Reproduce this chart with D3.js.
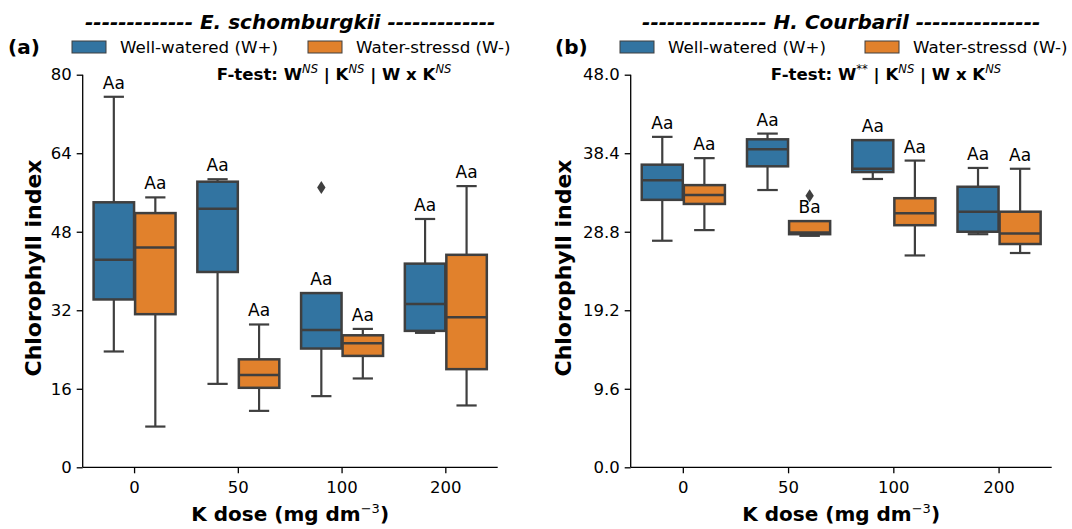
<!DOCTYPE html>
<html>
<head>
<meta charset="utf-8">
<script src="https://cdn.jsdelivr.net/npm/d3@7"></script>
<style>
  html, body { margin: 0; padding: 0; background: #fff; }
  svg { display: block; font-family: "DejaVu Sans", sans-serif; }
</style>
</head>
<body>
<svg id="chart" width="1072" height="529"></svg>
<script>
// K doses (categories) and water regimes (hue groups)
const doses = ["0", "50", "100", "200"];
const regimes = ["Well-watered (W+)", "Water-stressd (W-)"];
const regimeColors = ["#3274a1", "#e1812c"];

// Box statistics per dose: [lower whisker, Q1, median, Q3, upper whisker]
// E. schomburgkii
const eschWellWatered = [
  [23.6, 34.2, 42.3, 54.0, 75.5],
  [17.0, 39.8, 52.7, 58.2, 58.7],
  [14.5, 24.2, 28.0, 35.5, 35.5],
  [27.4, 27.8, 33.3, 41.5, 50.6]
];
const eschStressed = [
  [8.3, 31.2, 44.8, 51.8, 55.0],
  [11.5, 16.2, 18.8, 22.0, 29.1],
  [18.1, 22.7, 25.3, 26.9, 28.2],
  [12.6, 20.0, 30.6, 43.3, 57.3]
];
const eschOutliersWW = [[], [], [57.0], []];
const eschOutliersWS = [[], [], [], []];
const eschLettersWW = ["Aa", "Aa", "Aa", "Aa"];
const eschLettersWS = ["Aa", "Aa", "Aa", "Aa"];
const eschTicks = [0, 16, 32, 48, 64, 80];

// H. courbaril
const hcouWellWatered = [
  [27.7, 32.7, 35.1, 37.0, 40.4],
  [33.9, 36.8, 38.9, 40.1, 40.8],
  [35.25, 36.1, 36.5, 40.0, 40.0],
  [28.5, 28.8, 31.25, 34.3, 36.6]
];
const hcouStressed = [
  [29.0, 32.2, 33.3, 34.5, 37.8],
  [28.3, 28.5, 28.7, 30.1, 30.1],
  [25.9, 29.6, 31.05, 32.9, 37.5],
  [26.2, 27.3, 28.6, 31.25, 36.5]
];
const hcouOutliersWW = [[], [], [], []];
const hcouOutliersWS = [[], [33.2], [], []];
const hcouLettersWW = ["Aa", "Aa", "Aa", "Aa"];
const hcouLettersWS = ["Aa", "Ba", "Aa", "Aa"];
const hcouTicks = [0, 9.6, 19.2, 28.8, 38.4, 48.0];

const lineGray = "#3f3f3f";
const svg = d3.select("#chart");

function drawPanel(opt) {
  const g = svg.append("g");
  const x = d3.scaleBand().domain(doses).range([opt.x0, opt.x1]).padding(0);
  const y = d3.scaleLinear().domain([0, opt.ymax]).range([467.3, 74.7]);
  const bw = x.bandwidth();
  const boxW = bw * 0.39;
  const series = [
    { stats: opt.ww, out: opt.outWW, letters: opt.lettersWW, color: regimeColors[0], off: -0.2 },
    { stats: opt.ws, out: opt.outWS, letters: opt.lettersWS, color: regimeColors[1], off: 0.2 }
  ];

  series.forEach(s => {
    doses.forEach((d, i) => {
      const [lo, q1, med, q3, hi] = s.stats[i];
      const cx = x(d) + bw / 2 + s.off * bw;
      const bg = g.append("g");
      // whiskers
      bg.append("line").attr("x1", cx).attr("x2", cx).attr("y1", y(q3)).attr("y2", y(hi))
        .attr("stroke", lineGray).attr("stroke-width", 2.2);
      bg.append("line").attr("x1", cx).attr("x2", cx).attr("y1", y(q1)).attr("y2", y(lo))
        .attr("stroke", lineGray).attr("stroke-width", 2.2);
      // caps
      [lo, hi].forEach(v => {
        bg.append("line").attr("x1", cx - boxW / 4).attr("x2", cx + boxW / 4)
          .attr("y1", y(v)).attr("y2", y(v))
          .attr("stroke", lineGray).attr("stroke-width", 2.2);
      });
      // box
      bg.append("rect").attr("x", cx - boxW / 2).attr("y", y(q3))
        .attr("width", boxW).attr("height", Math.max(0.5, y(q1) - y(q3)))
        .attr("fill", s.color).attr("stroke", lineGray).attr("stroke-width", 2.5);
      // median
      bg.append("line").attr("x1", cx - boxW / 2).attr("x2", cx + boxW / 2)
        .attr("y1", y(med)).attr("y2", y(med))
        .attr("stroke", lineGray).attr("stroke-width", 2.5);
      // outliers (thin diamonds)
      s.out[i].forEach(v => {
        const py = y(v);
        bg.append("path")
          .attr("d", `M${cx},${py - 6.5} L${cx + 4.2},${py} L${cx},${py + 6.5} L${cx - 4.2},${py} Z`)
          .attr("fill", lineGray);
      });
      // significance letters
      g.append("text").attr("x", cx).attr("y", y(hi) - 8)
        .attr("text-anchor", "middle").attr("font-size", 17).attr("fill", "#000")
        .text(s.letters[i]);
    });
  });

  // axes
  const yAxis = d3.axisLeft(y).tickValues(opt.ticks).tickFormat(opt.fmt).tickSize(6).tickPadding(5);
  const xAxis = d3.axisBottom(x).tickSize(6).tickPadding(8);
  const ya = g.append("g").attr("transform", `translate(${opt.x0},0)`).call(yAxis);
  const xa = g.append("g").attr("transform", `translate(0,467.3)`).call(xAxis);
  [ya, xa].forEach(a => {
    a.selectAll("path.domain").attr("stroke", "#000").attr("stroke-width", 1.3);
    a.selectAll(".tick line").attr("stroke", "#000").attr("stroke-width", 1.3);
    a.selectAll(".tick text").attr("font-size", 16.5).attr("fill", "#000")
      .attr("font-family", "DejaVu Sans");
  });
  ya.select("path.domain").attr("d", `M0,74.7V467.3`);
  xa.select("path.domain").attr("d", `M${opt.x0},0H${opt.x1}`);

  // axis labels
  const cxAxis = (opt.x0 + opt.x1) / 2;
  const xl = g.append("text").attr("x", cxAxis).attr("y", 521)
    .attr("text-anchor", "middle").attr("font-size", 20).attr("font-weight", "bold");
  xl.append("tspan").text("K dose (mg dm");
  xl.append("tspan").attr("font-size", 13).attr("font-weight", "normal").attr("dy", -8).text("\u22123");
  xl.append("tspan").attr("dy", 8).text(")");

  g.append("text")
    .attr("transform", `translate(${opt.ylabX},268) rotate(-90)`)
    .attr("text-anchor", "middle").attr("dominant-baseline", "central")
    .attr("font-size", 22).attr("font-weight", "bold").text("Chlorophyll index");

  // species title
  const dashes = "-".repeat(opt.dashCount);
  g.append("text").attr("x", cxAxis).attr("y", 29).attr("text-anchor", "middle")
    .attr("font-size", 20).attr("font-weight", "bold").attr("font-style", "italic")
    .text(`${dashes} ${opt.title} ${dashes}`);

  // panel tag
  g.append("text").attr("x", opt.tagX).attr("y", 54)
    .attr("font-size", 20).attr("font-weight", "bold").text(opt.tag);

  // legend
  const lg = g.append("g");
  regimes.forEach((r, i) => {
    const lx = opt.legendX[i];
    lg.append("rect").attr("x", lx).attr("y", 41).attr("width", 34).attr("height", 12)
      .attr("fill", regimeColors[i]).attr("stroke", lineGray).attr("stroke-width", 1);
    lg.append("text").attr("x", lx + 48).attr("y", 53).attr("font-size", 16.7).text(r);
  });

  // F-test line
  const ft = g.append("text").attr("x", opt.ftX).attr("y", 80)
    .attr("text-anchor", "middle").attr("font-size", 16.6).attr("font-weight", "bold");
  opt.ftest.forEach(part => {
    const t = ft.append("tspan").text(part.t);
    if (part.sup) {
      t.attr("font-size", 11.5).attr("font-weight", "normal").attr("font-style", "italic").attr("dy", -7);
    } else if (part.after) {
      t.attr("dy", 7);
    }
  });
}

drawPanel({
  x0: 82.7, x1: 497.7, ymax: 80, ticks: eschTicks, fmt: d3.format("d"),
  ww: eschWellWatered, ws: eschStressed, outWW: eschOutliersWW, outWS: eschOutliersWS,
  lettersWW: eschLettersWW, lettersWS: eschLettersWS,
  title: "E. schomburgkii", dashCount: 13, tag: "(a)", tagX: 8,
  legendX: [72, 308], ylabX: 33, ftX: 334,
  ftest: [
    { t: "F-test: W" }, { t: "NS", sup: true }, { t: " | K", after: true },
    { t: "NS", sup: true }, { t: " | W x K", after: true }, { t: "NS", sup: true }
  ]
});

drawPanel({
  x0: 630.7, x1: 1051.7, ymax: 48, ticks: hcouTicks, fmt: d3.format(".1f"),
  ww: hcouWellWatered, ws: hcouStressed, outWW: hcouOutliersWW, outWS: hcouOutliersWS,
  lettersWW: hcouLettersWW, lettersWS: hcouLettersWS,
  title: "H. Courbaril", dashCount: 15, tag: "(b)", tagX: 555,
  legendX: [620, 865], ylabX: 563, ftX: 886,
  ftest: [
    { t: "F-test: W" }, { t: "**", sup: true }, { t: " | K", after: true },
    { t: "NS", sup: true }, { t: " | W x K", after: true }, { t: "NS", sup: true }
  ]
});
</script>
</body>
</html>
